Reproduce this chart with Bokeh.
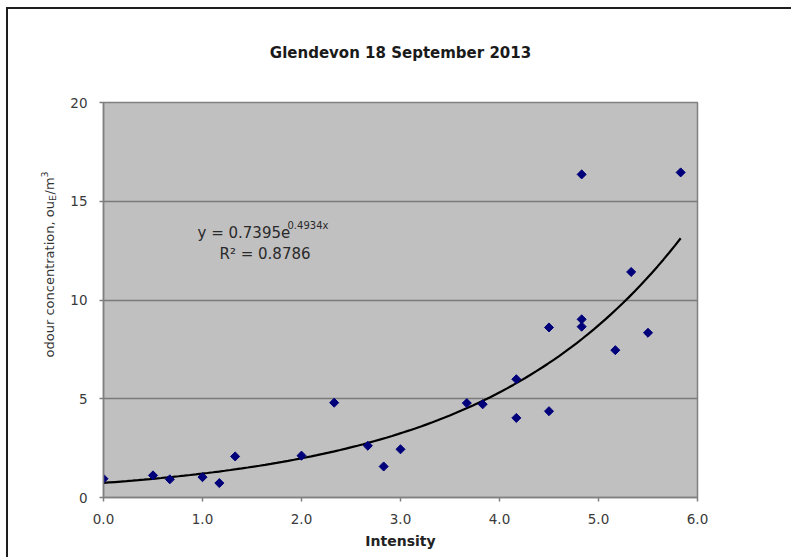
import math
from bokeh.plotting import figure
from bokeh.layouts import row, column
from bokeh.models import Label, FixedTicker, NumeralTickFormatter, Range1d, ColumnDataSource
from bokeh.core.properties import value
from bokeh.embed import file_html
from bokeh.resources import INLINE

# ---- data ----
intensity = [0.0, 0.5, 0.67, 1.0, 1.17, 1.33, 2.0, 2.33, 2.67, 2.83, 3.0,
             3.67, 3.83, 4.17, 4.17, 4.5, 4.5, 4.83, 4.83, 4.83, 5.17, 5.33, 5.5, 5.83]
odour = [0.95, 1.12, 0.92, 1.03, 0.73, 2.08, 2.12, 4.8, 2.62, 1.57, 2.44,
         4.78, 4.72, 5.99, 4.03, 8.61, 4.37, 16.36, 9.02, 8.65, 7.46, 11.42, 8.34, 16.46]
fit_a = 0.7395
fit_b = 0.4934
fit_r2 = 0.8786
x_ticks = [0, 1, 2, 3, 4, 5, 6]
y_ticks = [0, 5, 10, 15, 20]
title_text = "Glendevon 18 September 2013"
y_label_parts = ["odour concentration, ou", "E", "/m", "3"]

FONT = "DejaVu Sans"
TH = 60          # height of the title strip
H = 488          # height of the chart row
LW = 50          # width of the strip holding the y-axis title
MW = 733         # width of the main chart

# trend line from displayed fit coefficients
tx = [min(intensity) + i * (max(intensity) - min(intensity)) / 100 for i in range(101)]
ty = [fit_a * math.exp(fit_b * v) for v in tx]


def text_strip(w, h):
    f = figure(width=w, height=h, x_range=Range1d(0, w), y_range=Range1d(0, h),
               output_backend="svg", toolbar_location=None, x_axis_type=None, y_axis_type=None,
               min_border=0, min_border_left=0, min_border_right=0, min_border_top=0,
               min_border_bottom=0)
    f.outline_line_color = None
    f.grid.visible = False
    f.background_fill_color = "white"
    f.border_fill_color = "white"
    return f


# ---------------- title strip ----------------
t = text_strip(LW + MW, TH)
t.text(x=[LW + 45 + 297], y=[17], text=[title_text], text_font=value(FONT),
       text_font_size=value("15px"), text_font_style="bold", text_align="center",
       text_baseline="alphabetic", text_color="#1a1a1a")

# ---------------- main chart ----------------
p = figure(width=MW, height=H, x_range=Range1d(0, 6), y_range=Range1d(0, 20),
           output_backend="svg", toolbar_location=None,
           min_border_left=45, min_border_right=94, min_border_top=33, min_border_bottom=60)
p.background_fill_color = "#C0C0C0"
p.border_fill_color = "white"
p.outline_line_color = "#808080"
p.outline_line_width = 1.5

p.xgrid.visible = False
p.ygrid.grid_line_color = "#7a7a7a"
p.ygrid.grid_line_width = 1.5

for ax in (p.xaxis[0], p.yaxis[0]):
    ax.axis_line_color = "#808080"
    ax.axis_line_width = 1.5
    ax.major_tick_line_color = "#808080"
    ax.major_tick_line_width = 1.5
    ax.major_tick_in = 0
    ax.major_tick_out = 4
    ax.minor_tick_line_color = None
    ax.major_label_text_font = FONT
    ax.major_label_text_font_size = "13.5px"
    ax.major_label_text_color = "#3a3a3a"

p.xaxis.ticker = FixedTicker(ticks=x_ticks)
p.yaxis.ticker = FixedTicker(ticks=y_ticks)
p.xaxis.formatter = NumeralTickFormatter(format="0.0")
p.xaxis.major_label_standoff = 12
p.yaxis.major_label_standoff = 12
p.xaxis.axis_label = "Intensity"
p.xaxis.axis_label_text_font = FONT
p.xaxis.axis_label_text_font_style = "bold"
p.xaxis.axis_label_text_font_size = "14px"
p.xaxis.axis_label_text_color = "#222222"
p.xaxis.axis_label_standoff = 6

p.line(tx, ty, line_color="black", line_width=2.2)
src = ColumnDataSource(dict(x=intensity, y=odour))
p.scatter("x", "y", source=src, marker="square", angle=math.pi / 4, size=6.4,
          fill_color="#00007a", line_color="#00007a")

# equation text (frame is x 0..6 over page px 104..698, y 0..20 over page px 497..102)
FL, FR, FT, FB = 104, 698, 102, 497
def dx(px):
    return (px - FL) / (FR - FL) * 6
def dy(py):
    return (FB - py) / (FB - FT) * 20

def lab(px, py, text, size):
    p.add_layout(Label(x=dx(px), y=dy(py), text=text, text_font=FONT, text_font_size=size,
                       text_baseline="alphabetic", text_color="#2a2a2a"))

lab(198, 232, "y = %.4fe" % fit_a, "15px")
lab(288, 225, "%.4fx" % fit_b, "10px")
lab(220, 253, "R\u00b2 = %.4f" % fit_r2, "15px")

# ---------------- y-axis title strip ----------------
s = text_strip(LW, H)
AX, AY = 41, 173   # anchor of the rotated title (start of text)
def vtext(text, size, xo, yo):
    s.text(x=[AX], y=[AY], text=[text], angle=math.pi / 2, x_offset=xo, y_offset=yo,
           text_font=value(FONT), text_font_size=value(size), text_align="left",
           text_baseline="alphabetic", text_color="#333333")

vtext(y_label_parts[0], "13px", 0, 0)
vtext(y_label_parts[1], "9.5px", 3, -156.5)
vtext(y_label_parts[2], "13px", 0, -163)
vtext(y_label_parts[3], "9.5px", -5, -180)

layout = column(t, row(s, p, spacing=0), spacing=0)
layout.styles = {"border-left": "2px solid #1e1e1e", "border-top": "2px solid #1e1e1e",
                 "margin-left": "6px", "margin-top": "7px", "width": "fit-content"}

open("out.html", "w").write(file_html(layout, INLINE))
